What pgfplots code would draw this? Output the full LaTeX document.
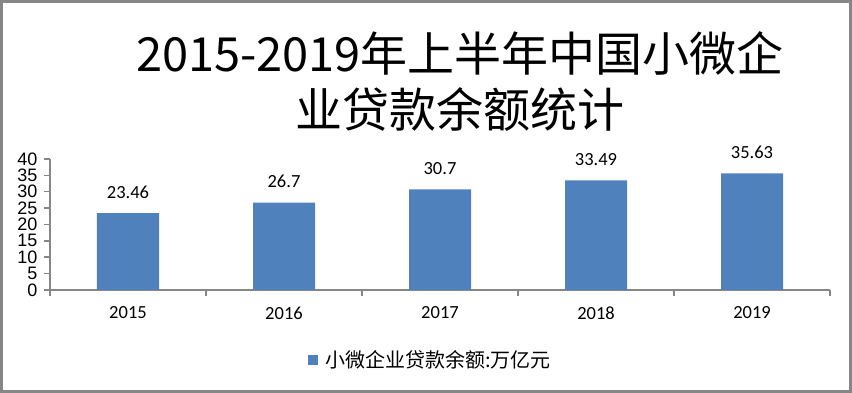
\documentclass[border=0pt]{standalone}
\usepackage{pgfplots}
\pgfplotsset{compat=1.18}
\usepackage{fontspec}
\setmainfont{Carlito}
\newfontfamily\cjk{Noto Sans CJK SC}
\newfontfamily\arial{Liberation Sans}
\definecolor{barblue}{RGB}{79,129,189}
\definecolor{axgray}{RGB}{134,134,134}
\begin{document}
\begin{tikzpicture}[x=1pt,y=1pt]
\path[use as bounding box] (0,0) rectangle (852,393);
\draw[axgray, line width=3pt] (1.5,1.5) rectangle (850.5,391.5);
\node[font=\cjk\fontsize{47}{50}\selectfont, inner sep=0pt] at (460,340) {2015-2019年上半年中国小微企};
\node[font=\cjk\fontsize{47}{50}\selectfont, inner sep=0pt] at (460,283) {业贷款余额统计};
\begin{axis}[
  at={(50pt,103pt)}, anchor=south west,
  width=780pt, height=131pt, scale only axis,
  xmin=-0.5, xmax=4.5, ymin=0, ymax=40,
  ytick={0,5,...,40},
  xtick={-0.5,0.5,...,4.5}, xticklabels={},
  extra x ticks={0,1,2,3,4},
  extra x tick labels={2015,2016,2017,2018,2019},
  extra x tick style={major tick length=0pt, tick style={draw=none},
    tick label style={font=\fontsize{18.5}{18}\selectfont, yshift=-13pt}},
  axis x line*=bottom, axis y line*=left,
  axis line style={draw=axgray, line width=1.5pt, -},
  tick style={draw=axgray, line width=1.5pt},
  tick align=outside, major tick length=6pt,
  y tick label style={font=\arial\fontsize{18}{18}\selectfont, xshift=-3pt, /pgf/number format/assume math mode=true},
  ybar, bar width=62pt,
  nodes near coords,
  every node near coord/.append style={font=\fontsize{18.5}{18}\selectfont, yshift=11pt, black},
  point meta=explicit symbolic,
  legend style={at={(0.488,-0.534)}, anchor=center, draw=none, fill=none,
    font=\cjk\fontsize{20}{21}\selectfont},
  legend image code/.code={\fill[#1] (-12pt,-5pt) rectangle (-2pt,5pt);},
]
\addplot[fill=barblue, draw=none] coordinates {
  (0,23.46) [23.46]
  (1,26.7) [26.7]
  (2,30.7) [30.7]
  (3,33.49) [33.49]
  (4,35.63) [35.63]
};
\addlegendentry{\hspace{5pt}小微企业贷款余额:万亿元}
\end{axis}
\end{tikzpicture}
\end{document}
